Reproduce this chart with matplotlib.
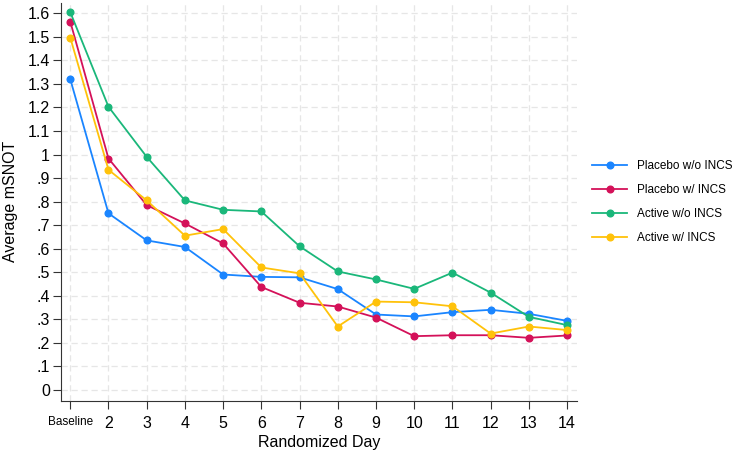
import matplotlib.pyplot as plt
import numpy as np

plt.rcParams['font.family'] = ['Liberation Sans', 'DejaVu Sans']

days = np.arange(1, 15)
day_labels = ["Baseline"] + [str(d) for d in range(2, 15)]

placebo_wo = [1.32, 0.75, 0.635, 0.607, 0.49, 0.48, 0.478, 0.428, 0.32, 0.312, 0.33, 0.34, 0.323, 0.293]
placebo_w = [1.565, 0.983, 0.785, 0.707, 0.622, 0.437, 0.37, 0.354, 0.307, 0.228, 0.232, 0.232, 0.221, 0.231]
active_wo = [1.605, 1.203, 0.99, 0.805, 0.765, 0.758, 0.61, 0.503, 0.469, 0.429, 0.498, 0.413, 0.31, 0.275]
active_w = [1.497, 0.935, 0.805, 0.655, 0.683, 0.52, 0.495, 0.269, 0.375, 0.372, 0.355, 0.239, 0.269, 0.254]

series = [
    ("Placebo w/o INCS", placebo_wo, "#1A85FF"),
    ("Placebo w/ INCS", placebo_w, "#D41159"),
    ("Active w/o INCS", active_wo, "#1AB77A"),
    ("Active w/ INCS", active_w, "#FFC20A"),
]

fig = plt.figure(figsize=(7.36, 4.54), dpi=100)
ax = fig.add_axes([0.083, 0.117, 0.701, 0.877])

for name, vals, col in series:
    ax.plot(days, vals, color=col, lw=1.3, marker='o', markersize=4.8, label=name)

yt = np.round(np.arange(0, 1.61, 0.1), 1)
ylabels = []
for v in yt:
    if v == 0:
        ylabels.append("0")
    elif v < 1:
        ylabels.append(("%.1f" % v)[1:])
    elif v == 1:
        ylabels.append("1")
    else:
        ylabels.append("%.1f" % v)
ax.set_yticks(yt)
ax.set_yticklabels(ylabels, fontsize=11.5)
ax.set_xticks(days)
ax.set_xticklabels(day_labels, fontsize=11.5)
ax.get_xticklabels()[0].set_fontsize(8.5)

ax.set_xlim(0.76, 14.26)
ax.set_ylim(-0.047, 1.645)

ax.grid(True, color='#e6e6e6', lw=0.9, ls=(0, (5, 3)))
ax.set_axisbelow(True)
for s in ['top', 'right']:
    ax.spines[s].set_visible(False)
ax.spines['left'].set_color('#333333')
ax.spines['bottom'].set_color('#333333')
ax.tick_params(length=6, color='#333333')
ax.tick_params(axis='x', pad=5)
ax.tick_params(axis='y', pad=2)

ax.set_xlabel("Randomized Day", fontsize=11.5, labelpad=3)
ax.set_ylabel("Average mSNOT", fontsize=11.5, labelpad=7)

fig.legend(loc='center left', bbox_to_anchor=(0.79, 0.555), frameon=False,
           fontsize=8.5, handlelength=3.0, labelspacing=1.0)

fig.savefig("out.png", dpi=100)
